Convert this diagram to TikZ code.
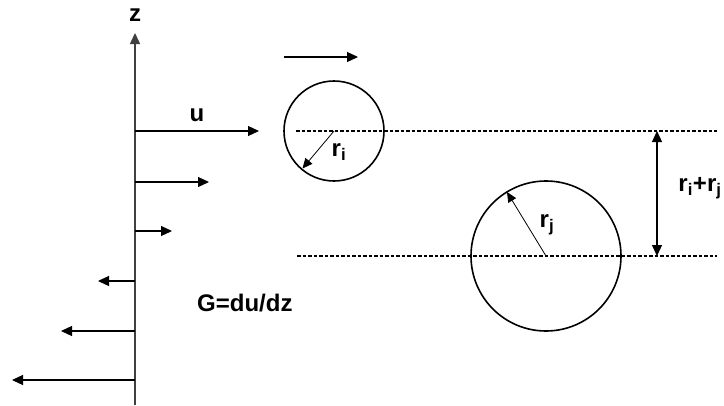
\documentclass[tikz,border=0pt]{standalone}
\usepackage{fontspec}
\setmainfont{Liberation Sans}
\usetikzlibrary{arrows.meta}
\begin{document}
\begin{tikzpicture}[x=1pt,y=-1pt,
  vel/.style={line width=1.2pt,-{Triangle[length=11pt,width=10pt]}},
  rad/.style={line width=0.8pt,-{Triangle[length=10pt,width=9pt]}},
  dim/.style={line width=1.2pt,{Triangle[length=11pt,width=10pt]}-{Triangle[length=11pt,width=10pt]}},
  dline/.style={line width=1.2pt,dash pattern=on 3.5pt off 2pt},
  lbl/.style={font=\fontsize{24}{28}\selectfont\bfseries,inner sep=0pt},
  ball/.style={circle,draw,line width=1.6pt,inner sep=0pt}]
\useasboundingbox (0,0) rectangle (724,405);
% axis
\coordinate (ab) at (135,405);
\coordinate (at) at (135,33);
\draw[vel,line width=1.5pt,draw=black!75] (ab) -- (at);
\node[lbl] (z) at (135,15) {z};
% velocity profile
\coordinate (o1) at (135,131); \coordinate (t1) at (259,131);
\coordinate (o2) at (135,182); \coordinate (t2) at (209,182);
\coordinate (o3) at (135,231); \coordinate (t3) at (172,231);
\coordinate (o4) at (135,281); \coordinate (t4) at (98,281);
\coordinate (o5) at (135,331); \coordinate (t5) at (61,331);
\coordinate (o6) at (135,380); \coordinate (t6) at (12,380);
\foreach \k in {1,...,6} \draw[vel] (o\k) -- (t\k);
\node[lbl] (u) at (197,115) {u};
\node[lbl,anchor=base west] (G) at (197,311) {G=du/dz};
% particle i
\node[ball,minimum size=100pt] (ci) at (334,131) {};
\coordinate (ai) at (284,57); \coordinate (bi) at (358,57);
\draw[vel] (ai) -- (bi);
\coordinate (ri) at (302.5,168.5);
\draw[rad] (ci.center) -- (ri);
\node[lbl] (rilbl) at (339,152) {r\textsubscript{i}};
% particle j
\node[ball,minimum size=150pt] (cj) at (546,256) {};
\coordinate (rj) at (507,192);
\draw[rad] (cj.center) -- (rj);
\node[lbl] (rjlbl) at (547,225) {r\textsubscript{j}};
% dashed lines
\coordinate (d1a) at (296,131); \coordinate (d1b) at (717,131);
\coordinate (d2a) at (297,256); \coordinate (d2b) at (717,256);
\draw[dline] (d1a) -- (d1b);
\draw[dline] (d2a) -- (d2b);
% distance
\coordinate (m1) at (657,131); \coordinate (m2) at (657,256);
\draw[dim] (m1) -- (m2);
\node[lbl] (sum) at (700,188) {r\textsubscript{i}+r\textsubscript{j}};
\end{tikzpicture}
\end{document}
